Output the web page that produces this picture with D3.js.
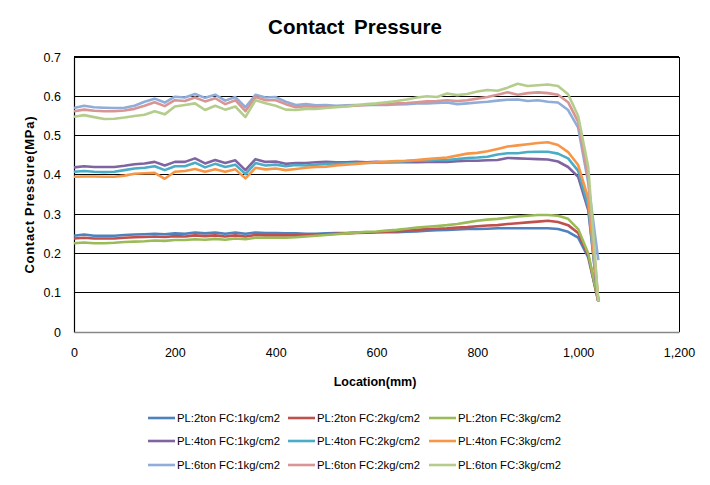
<!DOCTYPE html>
<html><head><meta charset="utf-8">
<script src="https://cdn.jsdelivr.net/npm/d3@7/dist/d3.min.js"></script>
<style>body{margin:0;background:#fff;} svg{display:block;font-family:"Liberation Sans",Arial,sans-serif;}</style>
</head><body>
<svg id="c" width="710" height="485"></svg>
<script>
const locations = [0,20,40,60,80,100,120,140,160,180,200,220,240,260,280,300,320,340,360,380,400,420,440,460,480,500,520,540,560,580,600,620,640,660,680,700,720,740,760,780,800,820,840,860,880,900,920,940,960,980,1000,1020,1040];

const pl2fc1 = [0.245,0.248,0.245,0.245,0.245,0.247,0.248,0.249,0.250,0.249,0.251,0.250,0.253,0.251,0.253,0.250,0.253,0.250,0.253,0.252,0.252,0.251,0.251,0.250,0.250,0.251,0.252,0.252,0.253,0.253,0.254,0.254,0.254,0.255,0.256,0.258,0.259,0.260,0.261,0.262,0.262,0.263,0.264,0.264,0.264,0.264,0.264,0.264,0.262,0.255,0.240,0.190,0.078];
const pl2fc2 = [0.238,0.240,0.238,0.238,0.238,0.240,0.241,0.242,0.243,0.242,0.244,0.243,0.246,0.244,0.246,0.243,0.246,0.243,0.247,0.246,0.246,0.246,0.246,0.247,0.248,0.249,0.250,0.251,0.252,0.253,0.254,0.255,0.256,0.258,0.260,0.262,0.263,0.264,0.266,0.267,0.269,0.271,0.272,0.275,0.277,0.279,0.281,0.283,0.280,0.272,0.252,0.195,0.078];
const pl2fc3 = [0.226,0.228,0.226,0.226,0.227,0.229,0.230,0.231,0.233,0.232,0.234,0.234,0.236,0.235,0.237,0.235,0.238,0.236,0.240,0.240,0.240,0.240,0.241,0.243,0.245,0.247,0.249,0.251,0.253,0.255,0.256,0.258,0.260,0.263,0.266,0.268,0.270,0.272,0.275,0.279,0.283,0.286,0.288,0.291,0.294,0.296,0.298,0.298,0.296,0.288,0.262,0.200,0.078];
const pl4fc1 = [0.419,0.422,0.420,0.420,0.420,0.423,0.427,0.429,0.433,0.424,0.433,0.433,0.442,0.429,0.438,0.430,0.437,0.412,0.440,0.433,0.434,0.428,0.430,0.430,0.432,0.433,0.432,0.432,0.433,0.432,0.433,0.432,0.432,0.432,0.432,0.433,0.433,0.433,0.435,0.436,0.436,0.437,0.438,0.443,0.442,0.441,0.440,0.439,0.434,0.420,0.395,0.310,0.078];
const pl4fc2 = [0.408,0.410,0.408,0.407,0.408,0.412,0.416,0.418,0.422,0.412,0.422,0.422,0.431,0.419,0.428,0.420,0.426,0.402,0.430,0.424,0.426,0.422,0.425,0.424,0.426,0.428,0.428,0.429,0.430,0.430,0.431,0.432,0.433,0.435,0.436,0.436,0.438,0.438,0.440,0.443,0.444,0.446,0.452,0.455,0.455,0.458,0.459,0.459,0.454,0.442,0.410,0.320,0.078];
const pl4fc3 = [0.395,0.396,0.396,0.395,0.395,0.398,0.403,0.404,0.405,0.390,0.408,0.410,0.415,0.408,0.414,0.408,0.414,0.391,0.418,0.414,0.416,0.412,0.415,0.418,0.420,0.421,0.424,0.426,0.428,0.430,0.432,0.434,0.435,0.436,0.438,0.440,0.442,0.444,0.449,0.454,0.456,0.460,0.466,0.472,0.475,0.478,0.481,0.483,0.476,0.458,0.425,0.340,0.078];
const pl6fc1 = [0.570,0.576,0.572,0.571,0.570,0.571,0.576,0.586,0.594,0.584,0.599,0.597,0.606,0.596,0.604,0.589,0.598,0.572,0.604,0.597,0.598,0.586,0.578,0.580,0.577,0.578,0.576,0.577,0.578,0.578,0.578,0.578,0.579,0.580,0.582,0.582,0.583,0.584,0.580,0.582,0.584,0.586,0.589,0.591,0.592,0.588,0.590,0.586,0.584,0.565,0.520,0.380,0.183];
const pl6fc2 = [0.562,0.566,0.563,0.562,0.562,0.564,0.568,0.576,0.585,0.575,0.590,0.588,0.597,0.587,0.595,0.580,0.590,0.562,0.598,0.590,0.590,0.580,0.572,0.575,0.573,0.574,0.574,0.575,0.576,0.578,0.579,0.580,0.582,0.583,0.585,0.587,0.588,0.590,0.588,0.590,0.594,0.598,0.604,0.610,0.604,0.608,0.610,0.608,0.604,0.585,0.535,0.390,0.078];
const pl6fc3 = [0.548,0.552,0.547,0.542,0.543,0.546,0.550,0.553,0.562,0.554,0.574,0.578,0.582,0.565,0.576,0.566,0.574,0.547,0.590,0.582,0.576,0.566,0.565,0.568,0.568,0.570,0.572,0.574,0.577,0.580,0.582,0.585,0.588,0.592,0.597,0.600,0.598,0.607,0.603,0.606,0.612,0.616,0.614,0.622,0.632,0.626,0.628,0.630,0.626,0.605,0.550,0.420,0.078];

const seriesNames = ["PL:2ton FC:1kg/cm2","PL:2ton FC:2kg/cm2","PL:2ton FC:3kg/cm2","PL:4ton FC:1kg/cm2","PL:4ton FC:2kg/cm2","PL:4ton FC:3kg/cm2","PL:6ton FC:1kg/cm2","PL:6ton FC:2kg/cm2","PL:6ton FC:3kg/cm2"];
const seriesValues = [pl2fc1,pl2fc2,pl2fc3,pl4fc1,pl4fc2,pl4fc3,pl6fc1,pl6fc2,pl6fc3];
const seriesColors = ["#4F81BD","#C0504D","#9BBB59","#8064A2","#4BACC6","#F79646","#90ACD8","#D79593","#B5CD8C"];
const xTicks = [0,200,400,600,800,1000,1200];
const yTicks = [0,0.1,0.2,0.3,0.4,0.5,0.6,0.7];

const svg = d3.select("#c");
const L = 74, R = 679, T = 57, B = 332;
const x = d3.scaleLinear().domain([0,1200]).range([L,R]);
const y = d3.scaleLinear().domain([0,0.7]).range([B,T]);

// gridlines
svg.append("g").selectAll("line").data(yTicks.filter(v=>v>0)).join("line")
  .attr("x1",L).attr("x2",R).attr("y1",d=>y(d)).attr("y2",d=>y(d))
  .attr("stroke","#000").attr("stroke-width",1.2).attr("shape-rendering","crispEdges");
// right border
svg.append("line").attr("x1",R).attr("x2",R).attr("y1",T).attr("y2",B).attr("stroke","#000").attr("stroke-width",1).attr("shape-rendering","crispEdges");

// axes
const yAxis = svg.append("g").attr("transform",`translate(${L},0)`)
  .call(d3.axisLeft(y).tickValues(yTicks).tickSize(0).tickPadding(13).tickFormat(d3.format("")));
yAxis.select(".domain").attr("stroke","#000").attr("stroke-width",1.2);
yAxis.selectAll("text").attr("font-size","12.5px").attr("fill","#000").attr("font-family","Liberation Sans, Arial, sans-serif");

const xAxis = svg.append("g").attr("transform",`translate(0,${B})`)
  .call(d3.axisBottom(x).tickValues(xTicks).tickSize(0).tickPadding(16).tickFormat(d3.format(",")));
xAxis.select(".domain").attr("stroke","#888").attr("stroke-width",1.5);
xAxis.selectAll("text").attr("font-size","12.5px").attr("fill","#000").attr("font-family","Liberation Sans, Arial, sans-serif");

// lines
const line = d3.line().x((d,i)=>x(locations[i])).y(d=>y(d));
svg.append("g").selectAll("path").data(seriesValues).join("path")
  .attr("d",line).attr("fill","none")
  .attr("stroke",(d,i)=>seriesColors[i]).attr("stroke-width",2.6)
  .attr("stroke-linejoin","round");

// titles
svg.append("text").attr("x",355).attr("y",34).attr("text-anchor","middle")
  .attr("font-size","20.5px").attr("font-weight","bold").attr("word-spacing","4px").text("Contact Pressure");
svg.append("text").attr("x",375).attr("y",386).attr("text-anchor","middle")
  .attr("font-size","12.5px").attr("font-weight","bold").text("Location(mm)");
svg.append("text").attr("transform","translate(34,195) rotate(-90)").attr("text-anchor","middle")
  .attr("font-size","13px").attr("font-weight","bold")
  .attr("textLength",157).attr("lengthAdjust","spacing").text("Contact Pressure(MPa)");

// legend
const legX = [148,288,429], legY = [418,441,465];
const leg = svg.append("g").selectAll("g").data(seriesNames).join("g")
  .attr("transform",(d,i)=>`translate(${legX[i%3]},${legY[Math.floor(i/3)]})`);
leg.append("line").attr("x1",0).attr("x2",27).attr("y1",0).attr("y2",0)
  .attr("stroke",(d,i)=>seriesColors[i]).attr("stroke-width",2.6);
leg.append("text").attr("x",29).attr("y",4).attr("font-size","11.3px").attr("fill","#000").text(d=>d);
</script>
</body></html>
